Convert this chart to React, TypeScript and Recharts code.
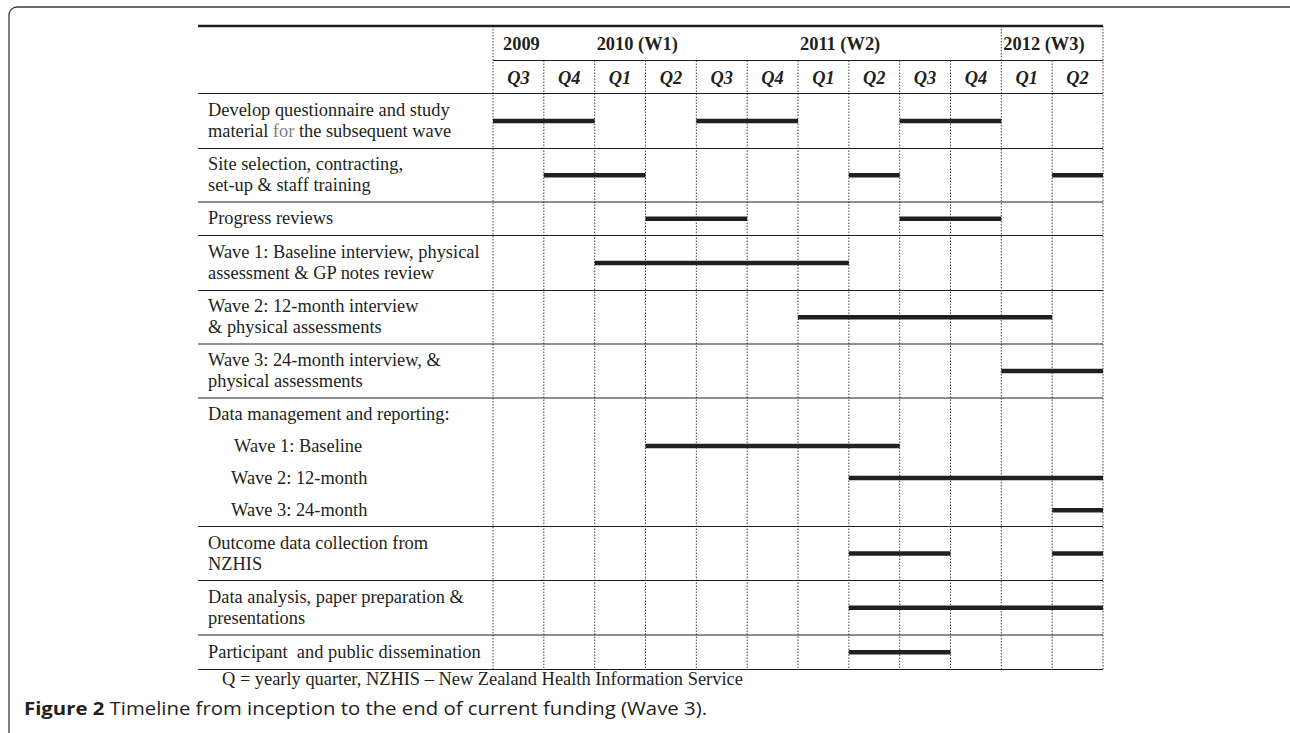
import React from 'react';
import { ComposedChart, Line, XAxis, YAxis, ReferenceLine, ReferenceDot } from 'recharts';

// quarter columns, Q3 2009 .. Q2 2012
const QUARTERS = ['Q3', 'Q4', 'Q1', 'Q2', 'Q3', 'Q4', 'Q1', 'Q2', 'Q3', 'Q4', 'Q1', 'Q2'];
const YEARS = ['2009', '2010 (W1)', '2011 (W2)', '2012 (W3)'];
const YEAR_START = [0, 2, 6, 10];

const TASKS = [
  ['Develop questionnaire and study', 'material for the subsequent wave'],
  ['Site selection, contracting,', 'set-up & staff training'],
  ['Progress reviews'],
  ['Wave 1: Baseline interview, physical', 'assessment & GP notes review'],
  ['Wave 2: 12-month interview', '& physical assessments'],
  ['Wave 3: 24-month interview, &', 'physical assessments'],
  ['Data management and reporting:'],
  ['Wave 1: Baseline'],
  ['Wave 2: 12-month'],
  ['Wave 3: 24-month'],
  ['Outcome data collection from', 'NZHIS'],
  ['Data analysis, paper preparation &', 'presentations'],
  ['Participant  and public dissemination'],
];

// [first quarter, end quarter) per task
const SEGMENTS: [number, number][][] = [
  [[0, 2], [4, 6], [8, 10]],
  [[1, 3], [7, 8], [11, 12]],
  [[3, 5], [8, 10]],
  [[2, 7]],
  [[6, 11]],
  [[10, 12]],
  [],
  [[3, 8]],
  [[7, 12]],
  [[11, 12]],
  [[7, 9], [11, 12]],
  [[7, 12]],
  [[7, 9]],
];

const NOTE = 'Q = yearly quarter, NZHIS \u2013 New Zealand Health Information Service';

// layout
const W = 1290;
const H = 733;
const LEFT = 198;
const PLOT_L = 493;
const PLOT_R = 1103;
const TOP = 26;
const LABEL_W = PLOT_L - LEFT;
const HEAD_H = [34.5, 33];
const ROW_H = [55, 53.5, 33.5, 55, 53.5, 54, 32, 32, 32, 32.5, 54, 54.5, 34.5];
const SUB_ROWS = [7, 8, 9]; // no rule above, indented
const FULL_V = [0, 10, 12]; // dotted lines that reach the top rule
const INK = '#231f20';
const SERIF = '"Liberation Serif", "Times New Roman", serif';
const FS = 18.4;

const headTotal = HEAD_H[0] + HEAD_H[1];
let acc = headTotal;
const rowTop = ROW_H.map((h) => {
  const t = acc;
  acc += h;
  return t;
});
const TOTAL = acc;
const rowMid = ROW_H.map((h, i) => rowTop[i] + h / 2);
const rules = [headTotal, ...rowTop.filter((_, i) => i > 0 && !SUB_ROWS.includes(i)), TOTAL];

const segLines = SEGMENTS.flatMap((segs, i) =>
  segs.map(([a, b]) => [
    { x: a, y: rowMid[i] },
    { x: b, y: rowMid[i] },
  ])
);

const WideRule = (p: any) => (
  <line x1={p.x1 - LABEL_W} y1={p.y1} x2={p.x2} y2={p.y2} stroke={INK} strokeWidth={p.strokeWidth} />
);

const LabelTick = (props: any) => {
  const { y, index } = props;
  const lines = TASKS[index];
  const x = LEFT + 10 + (SUB_ROWS.includes(index) ? (index === 7 ? 26 : 23) : 0);
  const base = lines.length === 1 ? [5.5] : [-5, 16];
  return (
    <g>
      {lines.map((ln, k) => (
        <text
          key={k}
          x={x}
          y={y + base[k]}
          fontSize={FS}
          fill={INK}
          fontFamily={SERIF}
          style={{ whiteSpace: 'pre' }}
        >
          {ln.split(/( for )/).map((part, j) =>
            part === ' for ' ? (
              <tspan key={j} fill="#808080">{part}</tspan>
            ) : (
              <tspan key={j}>{part}</tspan>
            )
          )}
        </text>
      ))}
    </g>
  );
};

export default function App() {
  return (
    <div style={{ position: 'absolute', left: 0, top: 0, width: W, height: H, background: '#fff', fontFamily: SERIF }}>
      <svg width={W} height={H} style={{ position: 'absolute', left: 0, top: 0 }}>
        <rect x={9} y={7} width={W + 20} height={H + 10} rx={8} fill="none" stroke="#3a3a3a" strokeWidth={1.3} />
        <text x={222} y={685} fontSize={FS} fill={INK} fontFamily={SERIF}>
          {NOTE}
        </text>
        <text
          x={24}
          y={715}
          fontSize={18.5}
          fill={INK}
          fontFamily='"Open Sans", "Noto Sans", sans-serif'
          textLength={683}
          lengthAdjust="spacingAndGlyphs"
        >
          <tspan fontWeight={700}>Figure 2</tspan>
          <tspan fontWeight={500}> Timeline from inception to the end of current funding (Wave 3).</tspan>
        </text>
      </svg>
      <div style={{ position: 'absolute', left: 0, top: 0 }}>
        <ComposedChart
          width={W}
          height={H}
          margin={{ top: TOP, left: LEFT, right: W - PLOT_R, bottom: H - TOP - TOTAL }}
        >
          <XAxis type="number" dataKey="x" domain={[0, 12]} allowDataOverflow hide />
          <YAxis
            type="number"
            dataKey="y"
            domain={[0, TOTAL]}
            allowDataOverflow
            reversed
            width={LABEL_W}
            ticks={rowMid}
            interval={0}
            tick={<LabelTick />}
            tickLine={false}
            axisLine={false}
          />
          {Array.from({ length: 13 }, (_, i) => (
            <ReferenceLine
              key={'v' + i}
              segment={[
                { x: i, y: FULL_V.includes(i) ? 0 : HEAD_H[0] },
                { x: i, y: TOTAL },
              ]}
              stroke="#444"
              strokeWidth={1}
              strokeDasharray="1.5 1.5"
            />
          ))}
          <ReferenceLine y={0} stroke={INK} strokeWidth={2.5} shape={WideRule} />
          <ReferenceLine y={HEAD_H[0]} stroke={INK} strokeWidth={1.2} />
          {rules.map((v, i) => (
            <ReferenceLine key={'h' + i} y={v} stroke={INK} strokeWidth={1.2} shape={WideRule} />
          ))}
          {YEARS.map((yr, i) => (
            <ReferenceDot
              key={yr}
              x={YEAR_START[i]}
              y={HEAD_H[0] / 2}
              r={0}
              label={{
                value: yr,
                position: 'right',
                offset: i === 0 ? 10 : 2,
                fill: INK,
                fontSize: FS,
                fontWeight: 700,
                fontFamily: SERIF,
              }}
            />
          ))}
          {QUARTERS.map((q, i) => (
            <ReferenceDot
              key={'q' + i}
              x={i + 0.5}
              y={HEAD_H[0] + HEAD_H[1] / 2}
              r={0}
              label={{
                value: q,
                position: 'center',
                fill: INK,
                fontSize: FS,
                fontWeight: 700,
                fontStyle: 'italic',
                fontFamily: SERIF,
              }}
            />
          ))}
          {segLines.map((pts, i) => (
            <Line
              key={'s' + i}
              data={pts}
              dataKey="y"
              stroke={INK}
              strokeWidth={4.5}
              dot={false}
              activeDot={false}
              isAnimationActive={false}
              legendType="none"
            />
          ))}
        </ComposedChart>
      </div>
    </div>
  );
}
